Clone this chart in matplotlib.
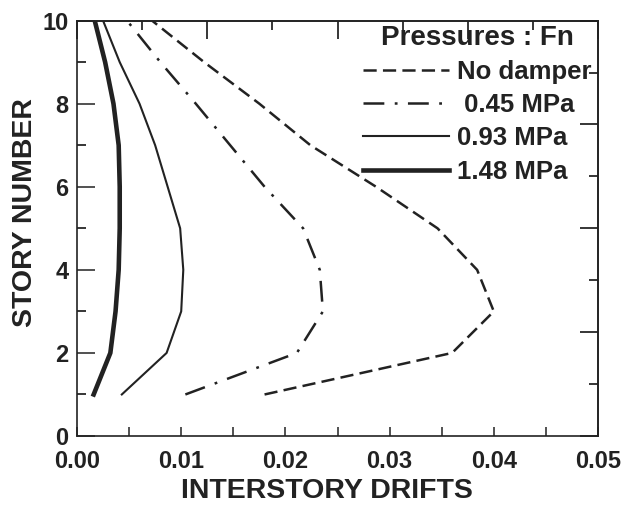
import numpy as np
import matplotlib
matplotlib.use('Agg')
import matplotlib.pyplot as plt
from matplotlib.ticker import MultipleLocator

# story levels and interstory drift for each damper pressure
stories = [1, 2, 3, 4, 5, 6, 7, 8, 9, 10]
no_damper = [0.0180, 0.0360, 0.0400, 0.0384, 0.0346, 0.0287, 0.0224, 0.0175, 0.0122, 0.0072]
mpa_045 = [0.0104, 0.0211, 0.0236, 0.0233, 0.0217, 0.0180, 0.0147, 0.0114, 0.0080, 0.0048]
mpa_093 = [0.0043, 0.0086, 0.0100, 0.0102, 0.0099, 0.0087, 0.0075, 0.0060, 0.0041, 0.0025]
mpa_148 = [0.0016, 0.0032, 0.0037, 0.0040, 0.0041, 0.0041, 0.0040, 0.0035, 0.0027, 0.0017]
labels = ['No damper', ' 0.45 MPa', '0.93 MPa', '1.48 MPa']

plt.rcParams['font.family'] = ['Liberation Sans', 'DejaVu Sans']
plt.rcParams['font.weight'] = 'bold'
plt.rcParams['lines.scale_dashes'] = False
ink = '#222222'

fig, ax = plt.subplots(figsize=(6.25, 5.09), dpi=100)
fig.subplots_adjust(left=0.1232, right=0.9568, bottom=0.1434, top=0.9595)

ax.plot(no_damper, stories, color=ink, lw=1.8, linestyle=(0, (9.5, 4.5)), label=labels[0])
ax.plot(mpa_045, stories, color=ink, lw=1.8, linestyle=(0, (15, 7.5, 2, 7.5)), label=labels[1])
ax.plot(mpa_093, stories, color=ink, lw=1.5, label=labels[2])
ax.plot(mpa_148, stories, color=ink, lw=3.3, label=labels[3])

ax.set_xlim(0, 0.05)
ax.set_ylim(0, 10)
ax.xaxis.set_major_locator(MultipleLocator(0.01))
ax.xaxis.set_minor_locator(MultipleLocator(0.005))
ax.yaxis.set_major_locator(MultipleLocator(2))
ax.yaxis.set_minor_locator(MultipleLocator(1))
ax.set_xticks(np.arange(0, 0.051, 0.01))
ax.set_xticklabels(['0.00', '0.01', '0.02', '0.03', '0.04', '0.05'])

ax.tick_params(axis='x', which='both', direction='in', length=6.5, width=1.1,
               labelsize=17, pad=10, colors=ink)
ax.tick_params(axis='y', which='major', direction='in', length=13, width=1.1,
               labelsize=17, pad=6, colors=ink)
ax.tick_params(axis='y', which='minor', direction='in', length=6.5, width=1.1)

# top and right frames carry their own tick spacing (8 divisions)
top = ax.secondary_xaxis('top', functions=(lambda x: x * 160, lambda x: x / 160))
top.xaxis.set_major_locator(MultipleLocator(2))
top.xaxis.set_minor_locator(MultipleLocator(1))
top.tick_params(which='major', direction='in', length=13, width=1.1, labeltop=False)
top.tick_params(which='minor', direction='in', length=6.5, width=1.1)
right = ax.secondary_yaxis('right', functions=(lambda y: y * 0.8, lambda y: y / 0.8))
right.yaxis.set_major_locator(MultipleLocator(2))
right.yaxis.set_minor_locator(MultipleLocator(1))
right.tick_params(which='major', direction='in', length=13, width=1.1, labelright=False)
right.tick_params(which='minor', direction='in', length=6.5, width=1.1)
for sp in list(ax.spines.values()) + list(top.spines.values()) + list(right.spines.values()):
    sp.set_linewidth(1.2)
    sp.set_color(ink)

ax.set_xlabel('INTERSTORY DRIFTS', fontsize=20.5, fontweight='bold', color=ink)
ax.set_ylabel('STORY NUMBER', fontsize=20.5, fontweight='bold', color=ink)
ax.xaxis.set_label_coords(0.48, -0.101)
ax.yaxis.set_label_coords(-0.075, 0.538)

leg = ax.legend(loc='upper left', bbox_to_anchor=(0.549, 0.9905), frameon=False,
                title='Pressures : Fn', fontsize=18.5, handlelength=3.35,
                handletextpad=0.3, labelspacing=0.36, borderpad=0, borderaxespad=0)
leg.get_title().set_fontsize(20)
leg.get_title().set_fontweight('bold')
leg.get_title().set_color(ink)
for t in leg.get_texts():
    t.set_color(ink)

plt.savefig('out.png', dpi=100)
plt.close()
